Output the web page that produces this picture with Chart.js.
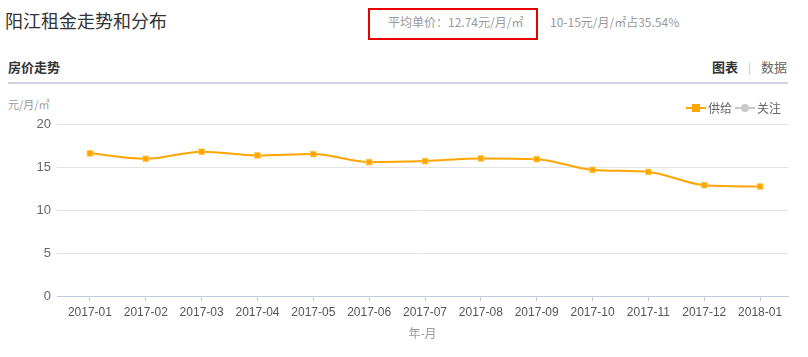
<!DOCTYPE html>
<html>
<head>
<meta charset="utf-8">
<script src="https://cdn.jsdelivr.net/npm/chart.js@4"></script>
<style>
  html,body{margin:0;padding:0;background:#fff;}
  body{width:808px;height:357px;position:relative;overflow:hidden;font-family:"Noto Sans CJK SC","Liberation Sans",sans-serif;}
  .abs{position:absolute;white-space:nowrap;}
  #title{left:5px;top:8px;font-size:18px;color:#333;line-height:24px;}
  #avgbox{left:368px;top:8px;width:166px;height:28px;border:2px solid #e60000;}
  #avg{left:388px;top:14px;font-size:12px;color:#999;line-height:16px;}
  #share{left:550px;top:14px;font-size:12px;color:#999;line-height:16px;}
  #sub{left:8px;top:58px;font-size:13px;font-weight:bold;color:#333;line-height:18px;}
  #tabs{left:712px;top:58px;font-size:13px;color:#666;line-height:18px;}
  #tabs b{color:#333;}
  #tabs .sep{color:#9c9;margin:0 10px;font-size:11px;}
  #rule{left:8px;top:82px;width:780px;height:2px;background:#cfd2dc;}
  #yunit{left:8px;top:97px;font-size:11px;color:#999;line-height:14px;}
  #wrap{position:absolute;left:0;top:90px;width:808px;height:267px;}
</style>
</head>
<body>
<div class="abs" id="title">阳江租金走势和分布</div>
<div class="abs" id="avgbox"></div>
<div class="abs" id="avg">平均单价：12.74元/月/㎡</div>
<div class="abs" id="share">10-15元/月/㎡占35.54%</div>
<div class="abs" id="sub">房价走势</div>
<div class="abs" id="tabs"><b>图表</b><span class="sep">|</span>数据</div>
<div class="abs" id="rule"></div>
<div class="abs" id="yunit">元/月/㎡</div>
<div id="wrap"><canvas id="c" width="808" height="267"></canvas></div>
<script>
const months = ["2017-01","2017-02","2017-03","2017-04","2017-05","2017-06","2017-07","2017-08","2017-09","2017-10","2017-11","2017-12","2018-01"];
const supply = [16.59,15.96,16.78,16.35,16.51,15.57,15.69,16.00,15.92,14.67,14.43,12.90,12.74];
const attention = [];
const yTicks = [0,5,10,15,20];

function legendIcon(color, shape){
  const cv = document.createElement('canvas');
  cv.width = 20; cv.height = 10;
  const g = cv.getContext('2d');
  g.strokeStyle = color; g.lineWidth = 2;
  g.beginPath(); g.moveTo(0,5); g.lineTo(20,5); g.stroke();
  g.fillStyle = color;
  if (shape === 'rect') { g.fillRect(6,1,8,8); }
  else { g.beginPath(); g.arc(10,5,4,0,Math.PI*2); g.fill(); }
  return cv;
}

const ORANGE = '#ffa500';
const GREY = '#c8c8c8';

new Chart(document.getElementById('c'), {
  type: 'line',
  data: {
    datasets: [
      {
        label: '供给',
        data: supply.map((v, i) => ({ x: i, y: v })),
        borderColor: ORANGE,
        backgroundColor: ORANGE,
        borderWidth: 2,
        tension: 0.4,
        cubicInterpolationMode: 'monotone',
        pointStyle: 'rect',
        pointRadius: 4,
        pointBorderWidth: 1,
        pointBorderColor: 'rgba(255,200,80,0.8)',
        pointBackgroundColor: ORANGE
      },
      {
        label: '关注',
        data: attention,
        borderColor: GREY,
        backgroundColor: GREY,
        pointStyle: 'circle'
      }
    ]
  },
  options: {
    responsive: false,
    animation: false,
    layout: { padding: { left: 0, right: 20, top: 5, bottom: 16 } },
    plugins: {
      tooltip: { enabled: false },
      legend: {
        position: 'top',
        align: 'end',
        labels: {
          usePointStyle: true,
          color: '#666',
          font: { size: 12, family: '"Noto Sans CJK SC", sans-serif' },
          padding: 7,
          boxWidth: 20,
          boxHeight: 10,
          generateLabels: (chart) => chart.data.datasets.map((ds, i) => ({
            text: ds.label,
            fillStyle: ds.borderColor,
            strokeStyle: ds.borderColor,
            fontColor: '#666',
            pointStyle: legendIcon(ds.borderColor, i === 0 ? 'rect' : 'circle'),
            hidden: false,
            datasetIndex: i
          }))
        }
      }
    },
    scales: {
      x: {
        type: 'linear',
        min: -0.59,
        max: 12.5,
        afterBuildTicks: (s) => { s.ticks = months.map((_, i) => ({ value: i })); },
        grid: {
          drawOnChartArea: false,
          drawTicks: true,
          tickLength: 5,
          color: '#c2cbdb'
        },
        border: { display: true, color: '#c2cbdb', width: 1 },
        ticks: {
          color: '#555',
          font: { size: 12, family: '"Liberation Sans", Arial, sans-serif' },
          padding: 4,
          maxRotation: 0,
          autoSkip: false,
          callback: (v) => months[v]
        },
        title: {
          display: true,
          text: '年-月',
          color: '#999',
          font: { size: 12, family: '"Noto Sans CJK SC", sans-serif' },
          padding: { top: 3, bottom: 0 }
        }
      },
      y: {
        min: 0,
        max: 20,
        afterBuildTicks: (s) => { s.ticks = yTicks.map(v => ({ value: v })); },
        afterFit: (s) => { s.width = 57; },
        grid: { color: '#e3e3e3', drawTicks: false },
        border: { display: false },
        ticks: {
          color: '#666',
          font: { size: 13, family: '"Liberation Sans", Arial, sans-serif' },
          padding: 6
        }
      }
    }
  }
});
</script>
</body>
</html>
